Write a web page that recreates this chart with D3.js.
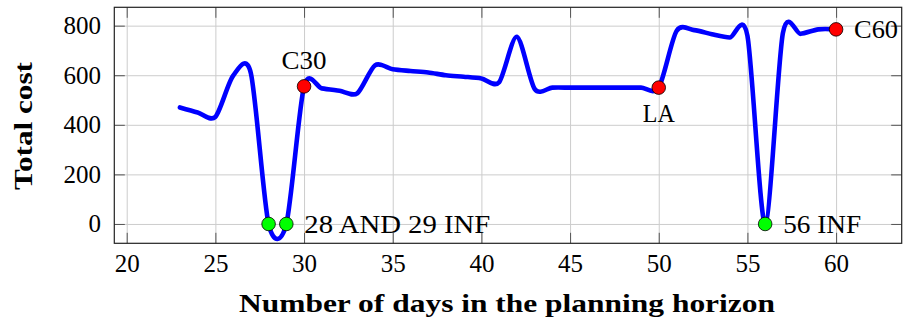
<!DOCTYPE html>
<html><head><meta charset="utf-8">
<script src="https://cdn.jsdelivr.net/npm/d3@7"></script>
<style>html,body{margin:0;padding:0;background:#fff;} svg{display:block;}</style>
</head><body><svg id="c" width="905" height="322"></svg>
<script>
// ---- data ----
const days = [23,24,25,26,27,28,29,30,31,32,33,34,35,36,37,38,39,40,41,42,43,44,45,46,47,48,49,50,51,52,53,54,55,56,57,58,59,60];
const cost = [470,450,432,598,608,0,0,555,547,537,527,640,624,617,611,600,594,587,572,755,545,550,550,550,550,550,550,550,778,782,765,752,760,0,770,767,785,785];
const xTicks = [20,25,30,35,40,45,50,55,60];
const yTicks = [0,200,400,600,800];
const redDays = [30,50,60];
const greenDays = [28,29,56];
const annDays = [30,50,60,29,56];
const annTexts = ["C30","LA","C60","28 AND 29 INF","56 INF"];
const annPos = ["above","below","right","right","right"];
const xTitle = "Number of days in the planning horizon";
const yTitle = "Total cost";

// ---- layout ----
const W = 905, H = 322;
const L = 114.3, R = 901.7, T = 7.3, B = 243.3;
const FONT = "'Liberation Serif','Times New Roman',serif";
const svg = d3.select("#c");
svg.append("rect").attr("width", W).attr("height", H).attr("fill", "#fff");

const x = d3.scaleLinear().domain([19.3, 63.7]).range([L, R]);
const y = d3.scaleLinear().domain([-78, 874]).range([B, T]);
const pts = days.map((d, i) => ({d, v: cost[i]}));
const valOf = d => cost[days.indexOf(d)];

// grid
svg.append("g").attr("transform", `translate(0,${B})`)
  .call(d3.axisBottom(x).tickValues(xTicks).tickSize(-(B - T)).tickFormat(""))
  .call(g => { g.select(".domain").remove(); g.selectAll("line").attr("stroke", "#cccccc").attr("stroke-width", 1); });
svg.append("g").attr("transform", `translate(${L},0)`)
  .call(d3.axisLeft(y).tickValues(yTicks).tickSize(-(R - L)).tickFormat(""))
  .call(g => { g.select(".domain").remove(); g.selectAll("line").attr("stroke", "#cccccc").attr("stroke-width", 1); });

// inner tick marks on all four sides
const TL = 10.5;
function tickStyle(g) { g.select(".domain").remove(); g.selectAll("text").remove(); g.selectAll("line").attr("stroke", "#555").attr("stroke-width", 1); }
svg.append("g").attr("transform", `translate(0,${B})`).call(d3.axisBottom(x).tickValues(xTicks).tickSize(-TL)).call(tickStyle);
svg.append("g").attr("transform", `translate(0,${T})`).call(d3.axisTop(x).tickValues(xTicks).tickSize(-TL)).call(tickStyle);
svg.append("g").attr("transform", `translate(${L},0)`).call(d3.axisLeft(y).tickValues(yTicks).tickSize(-TL)).call(tickStyle);
svg.append("g").attr("transform", `translate(${R},0)`).call(d3.axisRight(y).tickValues(yTicks).tickSize(-TL)).call(tickStyle);

// tick labels
svg.append("g").attr("transform", `translate(0,${B})`)
  .call(d3.axisBottom(x).tickValues(xTicks).tickSize(0).tickPadding(10.5))
  .call(g => { g.select(".domain").remove(); g.selectAll("text").attr("font-family", FONT).attr("font-size", 25).attr("fill", "#000"); });
svg.append("g").attr("transform", `translate(${L},0)`)
  .call(d3.axisLeft(y).tickValues(yTicks).tickSize(0).tickPadding(13.3))
  .call(g => { g.select(".domain").remove(); g.selectAll("text").attr("font-family", FONT).attr("font-size", 25).attr("fill", "#000"); });

// frame
svg.append("rect").attr("x", L).attr("y", T).attr("width", R - L).attr("height", B - T)
  .attr("fill", "none").attr("stroke", "#222").attr("stroke-width", 1.2);

// curve
const line = d3.line().x(p => x(p.d)).y(p => y(p.v)).curve(d3.curveCardinal.tension(0.17));
svg.append("path").datum(pts).attr("d", line).attr("fill", "none")
  .attr("stroke", "#0000ff").attr("stroke-width", 4.6).attr("stroke-linejoin", "round").attr("stroke-linecap", "round");

// markers
svg.append("g").selectAll("circle.r").data(redDays).join("circle")
  .attr("cx", d => x(d)).attr("cy", d => y(valOf(d))).attr("r", 6.8)
  .attr("fill", "#ff0000").attr("stroke", "#000").attr("stroke-width", 0.8);
svg.append("g").selectAll("circle.g").data(greenDays).join("circle")
  .attr("cx", d => x(d)).attr("cy", d => y(valOf(d))).attr("r", 6.8)
  .attr("fill", "#00ff00").attr("stroke", "#000").attr("stroke-width", 0.8);

// annotations
const annWidths = [45, 32, 44, 186, 78];
annDays.forEach((d, i) => {
  const px = x(d), py = y(valOf(d));
  const t = svg.append("text").attr("font-family", FONT).attr("font-size", 25).attr("fill", "#000")
    .attr("textLength", annWidths[i]).attr("lengthAdjust", "spacingAndGlyphs").text(annTexts[i]);
  if (annPos[i] === "above") t.attr("x", px).attr("y", py - 17.2).attr("text-anchor", "middle");
  else if (annPos[i] === "below") t.attr("x", px).attr("y", py + 34).attr("text-anchor", "middle");
  else t.attr("x", px + 18).attr("y", py + 9).attr("text-anchor", "start");
});

// axis titles
svg.append("text").attr("x", 507).attr("y", 312.3).attr("text-anchor", "middle")
  .attr("font-family", FONT).attr("font-weight", "bold").attr("font-size", 26)
  .attr("textLength", 536).attr("lengthAdjust", "spacingAndGlyphs").text(xTitle);
svg.append("text").attr("transform", `translate(31.5,126) rotate(-90)`).attr("text-anchor", "middle")
  .attr("font-family", FONT).attr("font-weight", "bold").attr("font-size", 26)
  .attr("textLength", 128).attr("lengthAdjust", "spacingAndGlyphs").text(yTitle);
</script></body></html>
